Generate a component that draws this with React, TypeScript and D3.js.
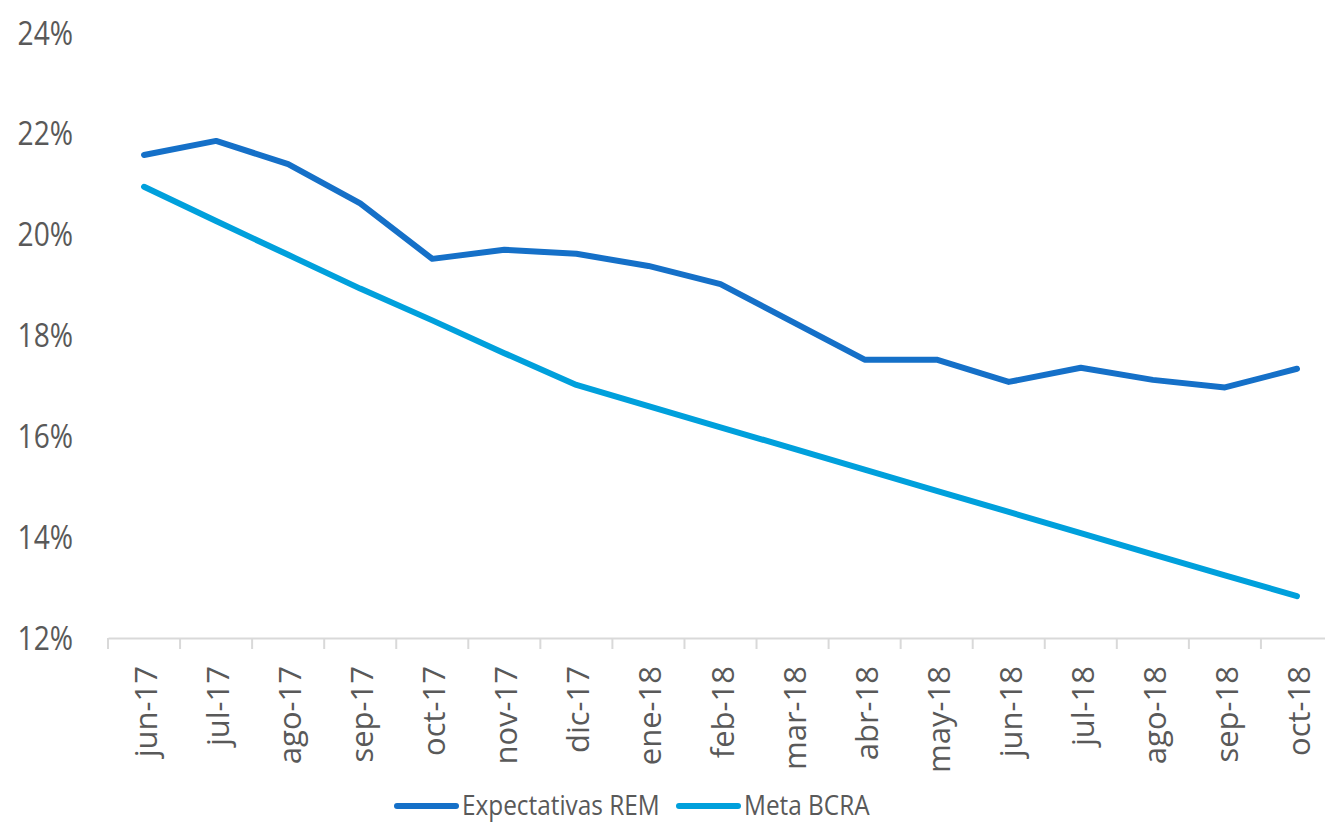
import React, { useRef, useEffect } from 'react';
import * as d3 from 'd3';

const months = [
  'jun-17', 'jul-17', 'ago-17', 'sep-17', 'oct-17', 'nov-17', 'dic-17', 'ene-18', 'feb-18',
  'mar-18', 'abr-18', 'may-18', 'jun-18', 'jul-18', 'ago-18', 'sep-18', 'oct-18',
];
const expectativasREM = [
  21.58, 21.86, 21.4, 20.62, 19.52, 19.7, 19.62, 19.38, 19.02,
  18.27, 17.52, 17.52, 17.08, 17.36, 17.12, 16.97, 17.34,
];
const metaBCRA = [
  20.95, 20.27, 19.6, 18.93, 18.3, 17.65, 17.02, 16.6, 16.18,
  15.76, 15.34, 14.92, 14.5, 14.08, 13.66, 13.24, 12.83,
];
const yTicks = [12, 14, 16, 18, 20, 22, 24];

const series = [
  { name: 'Expectativas REM', values: expectativasREM, color: '#1570c8' },
  { name: 'Meta BCRA', values: metaBCRA, color: '#00a0dc' },
];

const FONT = '"Open Sans", "Noto Sans", sans-serif';
const TEXT = '#595959';

const App = () => {
  const svgRef = useRef(null);

  useEffect(() => {
    const svg = d3.select(svgRef.current);
    svg.selectAll('*').remove();

    const x = d3.scaleBand().domain(months).range([108, 1333]);
    const y = d3.scaleLinear().domain([12, 24]).range([638, 33]);

    // y labels (no axis line), text looks a bit narrow in the original
    svg
      .append('g')
      .selectAll('text')
      .data(yTicks)
      .join('text')
      .attr('transform', d => `translate(73,${y(d)}) scale(0.88,1)`)
      .attr('dy', '0.36em')
      .attr('text-anchor', 'end')
      .attr('font-family', FONT)
      .attr('font-size', 32)
      .attr('fill', TEXT)
      .text(d => d + '%');

    // x axis
    const xAxis = svg
      .append('g')
      .attr('transform', 'translate(0,638)')
      .call(d3.axisBottom(x).tickSize(0).tickFormat(() => ''));
    xAxis.select('.domain').attr('stroke', '#d9d9d9').attr('stroke-width', 2);

    svg
      .append('g')
      .selectAll('line')
      .data(d3.range(months.length + 1))
      .join('line')
      .attr('x1', i => 108 + i * x.step())
      .attr('x2', i => 108 + i * x.step())
      .attr('y1', 638)
      .attr('y2', 649)
      .attr('stroke', '#d9d9d9')
      .attr('stroke-width', 2);

    svg
      .append('g')
      .selectAll('text')
      .data(months)
      .join('text')
      .attr('transform', d => `translate(${x(d) + x.bandwidth() / 2 + 13},666) rotate(-90)`)
      .attr('text-anchor', 'end')
      .attr('font-family', FONT)
      .attr('font-size', 31)
      .attr('fill', TEXT)
      .text(d => d);

    // lines
    const line = d3
      .line()
      .x((d, i) => x(months[i]) + x.bandwidth() / 2)
      .y(d => y(d));

    svg
      .append('g')
      .selectAll('path')
      .data(series)
      .join('path')
      .attr('d', d => line(d.values))
      .attr('fill', 'none')
      .attr('stroke', d => d.color)
      .attr('stroke-width', 6)
      .attr('stroke-linejoin', 'round')
      .attr('stroke-linecap', 'round');

    // legend
    const legendX = [397, 679];
    const lg = svg
      .append('g')
      .selectAll('g')
      .data(series)
      .join('g')
      .attr('transform', (d, i) => `translate(${legendX[i]},806)`);
    lg.append('line')
      .attr('x1', 0)
      .attr('x2', 59)
      .attr('stroke', d => d.color)
      .attr('stroke-width', 6)
      .attr('stroke-linecap', 'round');
    lg.append('text')
      .attr('transform', 'translate(65,0) scale(0.87,1)')
      .attr('dy', '0.33em')
      .attr('font-family', FONT)
      .attr('font-size', 28)
      .attr('fill', TEXT)
      .text(d => d.name);
  }, []);

  return (
    <svg
      ref={svgRef}
      width={1325}
      height={824}
      style={{ position: 'absolute', left: 0, top: 0, background: '#fff' }}
    />
  );
};

export default App;
